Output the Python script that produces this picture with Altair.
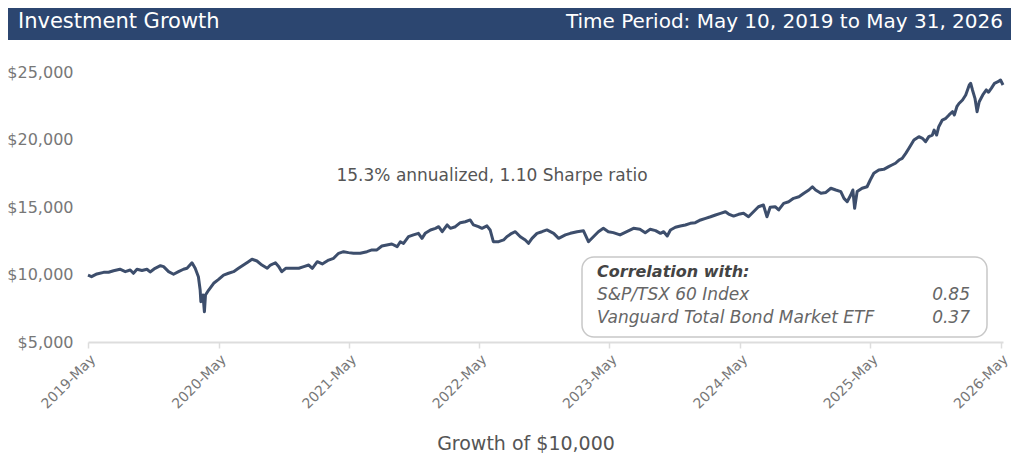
import altair as alt
import pandas as pd

# ---- data ----
dates = [
    "2019-05-10","2019-05-20","2019-06-04","2019-06-23","2019-07-07","2019-07-21","2019-08-08","2019-08-23",
    "2019-09-06","2019-09-15","2019-09-25","2019-10-09","2019-10-23","2019-11-01","2019-11-15","2019-11-30",
    "2019-12-09","2019-12-23","2020-01-06","2020-01-20","2020-02-03","2020-02-13","2020-02-27","2020-03-07",
    "2020-03-16","2020-03-21","2020-03-23","2020-03-29","2020-04-02","2020-04-05","2020-04-14","2020-04-28",
    "2020-05-12","2020-05-26","2020-06-09","2020-06-23","2020-07-07","2020-07-21","2020-08-04","2020-08-14",
    "2020-08-28","2020-09-11","2020-09-26","2020-10-05","2020-10-19","2020-10-28","2020-11-06","2020-11-17",
    "2020-12-05","2020-12-24","2021-01-07","2021-01-21","2021-01-31","2021-02-14","2021-02-28","2021-03-18",
    "2021-04-01","2021-04-15","2021-04-29","2021-05-13","2021-05-27","2021-06-15","2021-07-04","2021-07-18",
    "2021-08-01","2021-08-15","2021-08-29","2021-09-12","2021-09-27","2021-10-06","2021-10-15","2021-10-29",
    "2021-11-12","2021-11-26","2021-12-06","2021-12-15","2021-12-30","2022-01-13","2022-01-22","2022-02-01",
    "2022-02-15","2022-02-24","2022-03-10","2022-03-24","2022-04-07","2022-04-21","2022-04-30","2022-05-14",
    "2022-05-24","2022-06-07","2022-06-16","2022-06-25","2022-07-10","2022-07-24","2022-08-02","2022-08-16",
    "2022-08-26","2022-09-09","2022-09-23","2022-10-02","2022-10-12","2022-10-26","2022-11-09","2022-11-23",
    "2022-12-12","2022-12-26","2023-01-14","2023-01-28","2023-02-16","2023-03-06","2023-03-20","2023-04-03",
    "2023-04-17","2023-05-01","2023-05-15","2023-05-29","2023-06-17","2023-07-06","2023-07-25","2023-08-12",
    "2023-08-27","2023-09-10","2023-09-25","2023-10-09","2023-10-18","2023-10-28","2023-11-06","2023-11-20",
    "2023-12-04","2023-12-18","2024-01-01","2024-01-15","2024-01-30","2024-02-13","2024-02-27","2024-03-12",
    "2024-03-26","2024-04-09","2024-04-18","2024-05-02","2024-05-16","2024-05-30","2024-06-13","2024-06-27",
    "2024-07-11","2024-07-25","2024-08-04","2024-08-13","2024-08-27","2024-09-06","2024-09-20","2024-10-04",
    "2024-10-18","2024-11-02","2024-11-16","2024-11-30","2024-12-10","2024-12-19","2025-01-03","2025-01-17",
    "2025-01-31","2025-02-14","2025-02-28","2025-03-09","2025-03-18","2025-03-28","2025-04-03","2025-04-08",
    "2025-04-15","2025-04-29","2025-05-13","2025-05-22","2025-06-01","2025-06-15","2025-06-29","2025-07-13",
    "2025-07-22","2025-08-01","2025-08-11","2025-08-20","2025-08-30","2025-09-08","2025-09-22","2025-10-06",
    "2025-10-16","2025-10-25","2025-11-03","2025-11-13","2025-11-18","2025-11-25","2025-12-01","2025-12-11",
    "2025-12-21","2025-12-30","2026-01-09","2026-01-14","2026-01-21","2026-01-27","2026-02-06","2026-02-15",
    "2026-02-25","2026-03-01","2026-03-06","2026-03-13","2026-03-19","2026-03-25","2026-04-04","2026-04-14",
    "2026-04-20","2026-04-28","2026-05-07","2026-05-17","2026-05-24","2026-05-31",
]
values = [
    9950, 9840, 10040, 10160, 10170, 10280, 10390, 10210,
    10330, 10090, 10390, 10300, 10390, 10190, 10460, 10650,
    10580, 10210, 10020, 10210, 10390, 10460, 10870, 10460,
    9840, 8850, 7990, 8480, 7240, 8480, 8850, 9350,
    9640, 9960, 10090, 10210, 10460, 10700, 10950, 11130,
    11000, 10700, 10460, 10700, 10870, 10600, 10210, 10460,
    10460, 10460, 10580, 10700, 10460, 10950, 10780, 11070,
    11200, 11570, 11690, 11620, 11570, 11570, 11690, 11820,
    11820, 12110, 12190, 12260, 12060, 12430, 12300, 12800,
    12930, 13050, 12680, 13050, 13300, 13420, 13540, 13170,
    13670, 13420, 13540, 13840, 13910, 14040, 13670, 13540,
    13420, 13600, 13300, 12430, 12430, 12560, 12800, 13050,
    13170, 12800, 12560, 12310, 12680, 13050, 13170, 13300,
    13050, 12680, 12930, 13050, 13170, 13240, 12430, 12800,
    13170, 13420, 13170, 13100, 12930, 13170, 13420, 13350,
    13100, 13350, 13250, 13050, 13170, 12850, 13300, 13500,
    13590, 13670, 13790, 13840, 14040, 14160, 14280, 14410,
    14530, 14650, 14480, 14330, 14460, 14530, 14280, 14650,
    15020, 15150, 14280, 14980, 15020, 14780, 15270, 15390,
    15640, 15760, 16020, 16260, 16500, 16260, 16020, 16080,
    16390, 16260, 16140, 15640, 15390, 15890, 16260, 14900,
    16140, 16390, 16500, 17000, 17500, 17740, 17790, 17990,
    18110, 18240, 18480, 18600, 18970, 19350, 19960, 20210,
    20090, 19840, 20210, 20330, 20700, 20330, 20950, 21440,
    21570, 21820, 22060, 21820, 22430, 22670, 22930, 23300,
    24040, 24160, 23670, 23050, 22060, 22800, 23300, 23670,
    23500, 23790, 24160, 24280, 24410, 24040,
]
y_ticks = [5000, 10000, 15000, 20000, 25000]
tick_dates = [(2019, 5, 10), (2020, 5, 12), (2021, 5, 14), (2022, 5, 16),
              (2023, 5, 18), (2024, 5, 20), (2025, 5, 22), (2026, 5, 24)]
title_left = "Investment Growth"
title_right = "Time Period: May 10, 2019 to May 31, 2026"
note_text = "15.3% annualized, 1.10 Sharpe ratio"
corr_header = "Correlation with:"
corr_names = ["S&P/TSX 60 Index", "Vanguard Total Bond Market ETF"]
corr_values = ["0.85", "0.37"]
x_title = "Growth of $10,000"

FONT = "DejaVu Sans"
W, H = 915, 270

df = pd.DataFrame({"date": dates, "value": values})

def one(text):
    return pd.DataFrame({"t": [text]})

line = alt.Chart(df).mark_line(color="#3d4e6c", strokeWidth=3, strokeJoin="round").encode(
    x=alt.X("date:T",
            scale=alt.Scale(type="utc",
                            domain=[alt.DateTime(year=2019, month=5, date=10, utc=True),
                                    alt.DateTime(year=2026, month=5, date=31, utc=True)]),
            axis=alt.Axis(values=[alt.DateTime(year=y, month=m, date=d, utc=True) for y, m, d in tick_dates],
                          labelExpr="utcFormat(datum.value, '%Y-%b')", labelAngle=-45, title=None,
                          grid=False, domainColor="#dddddd", domainWidth=2,
                          tickColor="#dddddd", tickSize=6, tickWidth=1.5,
                          labelColor="#777777", labelFontSize=14, labelFont=FONT, labelPadding=4)),
    y=alt.Y("value:Q",
            scale=alt.Scale(domain=[5000, 25000], nice=False, zero=False),
            axis=alt.Axis(values=y_ticks, format="$,.0f", title=None, grid=False, domain=False,
                          ticks=False, labelColor="#777777", labelFontSize=16, labelFont=FONT,
                          labelPadding=15)),
)

header = alt.Chart(one("")).mark_rect(color="#2c4670").encode(
    x=alt.value(-80), x2=alt.value(W + 8), y=alt.value(-64), y2=alt.value(-32))

head_l = alt.Chart(one(title_left)).mark_text(
    align="left", baseline="middle", color="white", fontSize=21, font=FONT).encode(
    x=alt.value(-70), y=alt.value(-50), text="t:N")
head_r = alt.Chart(one(title_right)).mark_text(
    align="right", baseline="middle", color="white", fontSize=20, font=FONT).encode(
    x=alt.value(W), y=alt.value(-50), text="t:N")

note = alt.Chart(one(note_text)).mark_text(
    align="center", baseline="middle", color="#555555", fontSize=17, font=FONT).encode(
    x=alt.value(404), y=alt.value(104), text="t:N")

box = alt.Chart(one("")).mark_rect(
    fill="white", stroke="#c8c8c8", strokeWidth=1.5, cornerRadius=12).encode(
    x=alt.value(494), x2=alt.value(899), y=alt.value(185), y2=alt.value(265))

corr_h = alt.Chart(one(corr_header)).mark_text(
    align="left", baseline="middle", color="#444444", fontSize=16, font=FONT,
    fontWeight="bold", fontStyle="italic").encode(
    x=alt.value(509), y=alt.value(200), text="t:N")

corr_rows = []
for i, (nm, vv) in enumerate(zip(corr_names, corr_values)):
    yy = 223 + 23 * i
    corr_rows.append(alt.Chart(one(nm)).mark_text(
        align="left", baseline="middle", color="#666666", fontSize=17, font=FONT,
        fontStyle="italic").encode(x=alt.value(509), y=alt.value(yy), text="t:N"))
    corr_rows.append(alt.Chart(one(vv)).mark_text(
        align="right", baseline="middle", color="#666666", fontSize=17, font=FONT,
        fontStyle="italic").encode(x=alt.value(882), y=alt.value(yy), text="t:N"))

xt = alt.Chart(one(x_title)).mark_text(
    align="center", baseline="middle", color="#555555", fontSize=19, font=FONT).encode(
    x=alt.value(438), y=alt.value(372), text="t:N")

chart = alt.layer(header, head_l, head_r, line, note, box, corr_h, *corr_rows, xt).properties(
    width=W, height=H,
    autosize=alt.AutoSizeParams(type="none"),
    padding={"left": 80, "top": 64, "right": 8, "bottom": 111},
).configure(font=FONT).configure_view(stroke=None)

chart.save("out.html", embed_options={"renderer": "svg", "actions": False})
